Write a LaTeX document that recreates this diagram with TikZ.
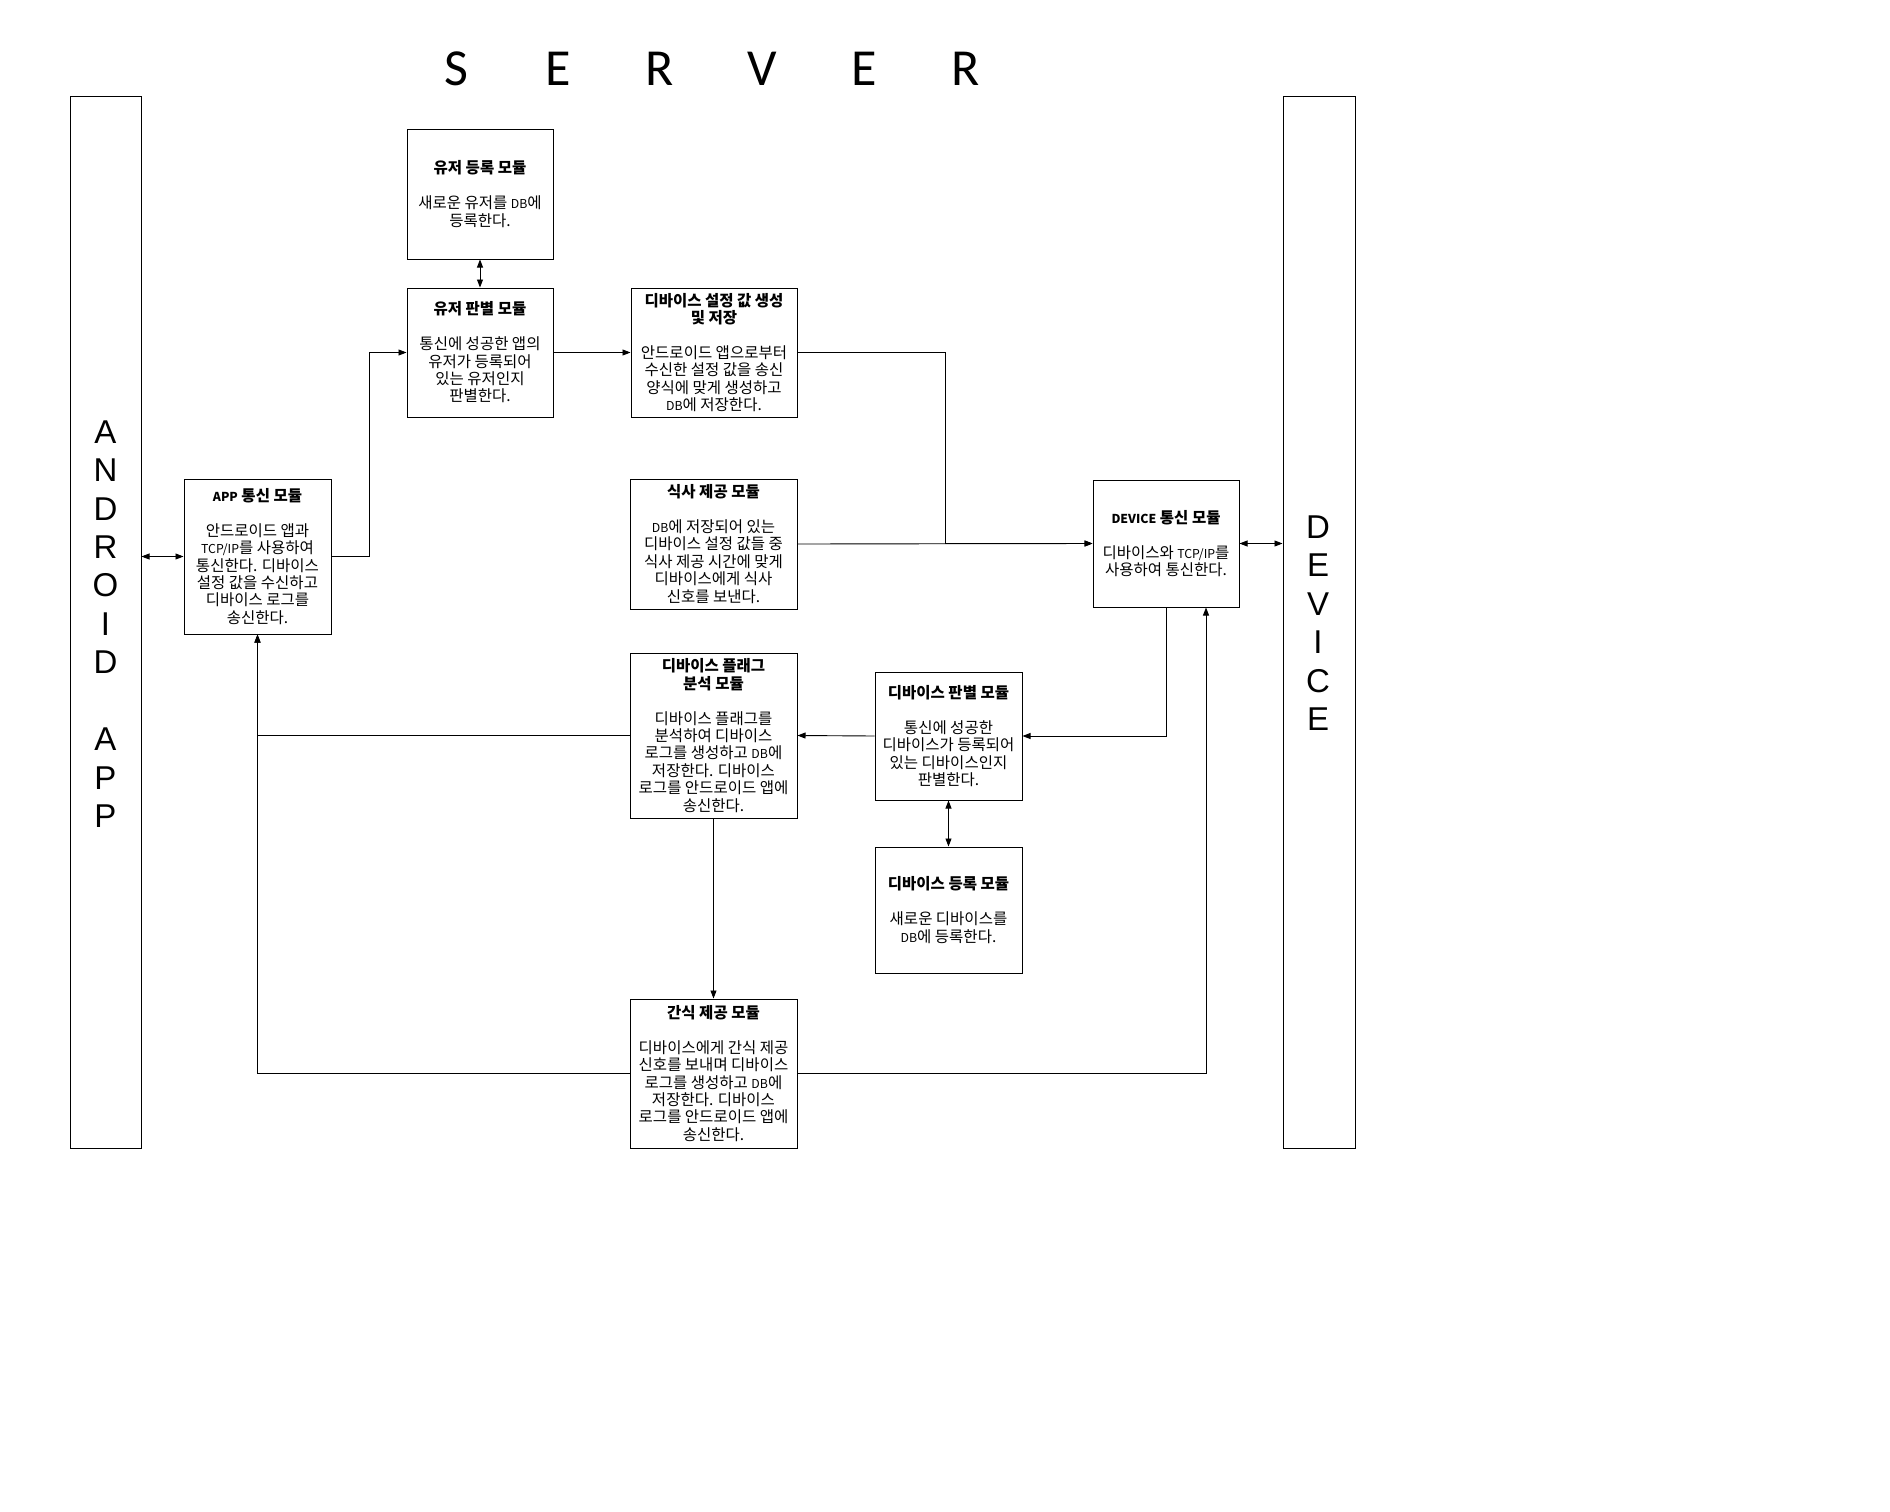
\documentclass[tikz,border=0pt]{standalone}
\usepackage{fontspec}
\newfontfamily\krfont{Noto Sans CJK KR}
\newfontfamily\serverfont{Carlito}
\newfontfamily\barfont{Liberation Sans}
\usetikzlibrary{arrows.meta}
\newcommand\lt[1]{{\fontsize{12.3pt}{17.4pt}\selectfont #1}}
\begin{document}
\begin{tikzpicture}[x=1pt,y=-1pt,
  box/.style={draw, line width=1pt, inner sep=0pt, align=center,
    font=\krfont\fontsize{15.5pt}{17.4pt}\selectfont},
  bar/.style={draw, line width=1pt, inner sep=0pt, minimum width=71pt, minimum height=1052pt},
  con/.style={line width=0.9pt},
  arr/.style={con, -{Triangle[length=8pt,width=6pt]}},
  arr2/.style={con, {Triangle[length=8pt,width=6pt]}-{Triangle[length=8pt,width=6pt]}},
  bartxt/.style={font=\barfont\fontsize{33pt}{38.45pt}\selectfont, align=center, inner sep=0pt}
]
\fill[white] (0,0) rectangle (1890,1512);
\useasboundingbox (0,0) rectangle (1890,1512);

% title
\node[font=\serverfont\fontsize{52pt}{60pt}\selectfont, inner sep=0pt] (title) at (711,69)
  {\makebox[102pt]{S}\makebox[102pt]{E}\makebox[102pt]{R}\makebox[102pt]{V}\makebox[102pt]{E}\makebox[102pt]{R}};

% side bars
\node[bar] (andbar) at (105.5,622) {};
\node[bar, minimum width=72pt] (devbar) at (1319,622) {};
\node[bartxt] (andtxt) at (105.5,624) {A\\N\\D\\R\\O\\I\\D\\[38.45pt]A\\P\\P};
\node[bartxt] (devtxt) at (1318,623) {D\\E\\V\\I\\C\\E};

% boxes
\node[box, minimum width=146pt, minimum height=130pt] (ureg) at (480,194)
  {\textbf{유저 등록 모듈}\\[17.4pt]새로운 유저를 \lt{DB}에\\등록한다.};
\node[box, minimum width=146pt, minimum height=129pt] (ujud) at (480,352.5)
  {\textbf{유저 판별 모듈}\\[17.4pt]통신에 성공한 앱의\\유저가 등록되어\\있는 유저인지\\판별한다.};
\node[box, minimum width=166pt, minimum height=129pt] (dset) at (714,352.5)
  {\textbf{디바이스 설정 값 생성}\\\textbf{및 저장}\\[17.4pt]안드로이드 앱으로부터\\수신한 설정 값을 송신\\양식에 맞게 생성하고\\\lt{DB}에 저장한다.};
\node[box, minimum width=147pt, minimum height=155pt] (app) at (257.5,556.5)
  {\textbf{\lt{APP} 통신 모듈}\\[17.4pt]안드로이드 앱과\\\lt{TCP/IP}를 사용하여\\통신한다. 디바이스\\설정 값을 수신하고\\디바이스 로그를\\송신한다.};
\node[box, minimum width=167pt, minimum height=130pt] (meal) at (713.5,544)
  {\textbf{식사 제공 모듈}\\[17.4pt]\lt{DB}에 저장되어 있는\\디바이스 설정 값들 중\\식사 제공 시간에 맞게\\디바이스에게 식사\\신호를 보낸다.};
\node[box, minimum width=146pt, minimum height=127pt] (devc) at (1166,543.5)
  {\textbf{\lt{DEVICE} 통신 모듈}\\[17.4pt]디바이스와 \lt{TCP/IP}를\\사용하여 통신한다.};
\node[box, minimum width=167pt, minimum height=165pt] (flag) at (713.5,735.5)
  {\textbf{디바이스 플래그}\\\textbf{분석 모듈}\\[17.4pt]디바이스 플래그를\\분석하여 디바이스\\로그를 생성하고 \lt{DB}에\\저장한다. 디바이스\\로그를 안드로이드 앱에\\송신한다.};
\node[box, minimum width=147pt, minimum height=128pt] (djud) at (948.5,736)
  {\textbf{디바이스 판별 모듈}\\[17.4pt]통신에 성공한\\디바이스가 등록되어\\있는 디바이스인지\\판별한다.};
\node[box, minimum width=147pt, minimum height=126pt] (dreg) at (948.5,910)
  {\textbf{디바이스 등록 모듈}\\[17.4pt]새로운 디바이스를\\\lt{DB}에 등록한다.};
\node[box, minimum width=167pt, minimum height=149pt] (snack) at (713.5,1073.5)
  {\textbf{간식 제공 모듈}\\[17.4pt]디바이스에게 간식 제공\\신호를 보내며 디바이스\\로그를 생성하고 \lt{DB}에\\저장한다. 디바이스\\로그를 안드로이드 앱에\\송신한다.};

% connectors
\draw[arr2] (app.west -| andbar.east) -- (app.west);
\draw[arr] (app.east) -- ++(38,0) |- (ujud.west);
\draw[arr2] (ureg.south) -- (ujud.north);
\draw[arr] (ujud.east) -- (dset.west);
\draw[arr] (dset.east) -- ++(148,0) |- (devc.west);
\draw[arr] (meal.east) -- (devc.west);
\draw[arr2] (devc.east) -- (devc.east -| devbar.west);
\draw[arr] (devc.south) |- (djud.east);
\draw[arr] (djud.west) -- (flag.east);
\draw[arr2] (djud.south) -- (dreg.north);
\draw[arr] (flag.west) -| (app.south);
\draw[arr] (flag.south) -- (snack.north);
\draw[arr] (snack.west) -| (app.south);
\draw[arr] (snack.east) -| ([xshift=40pt]devc.south);
\end{tikzpicture}
\end{document}
